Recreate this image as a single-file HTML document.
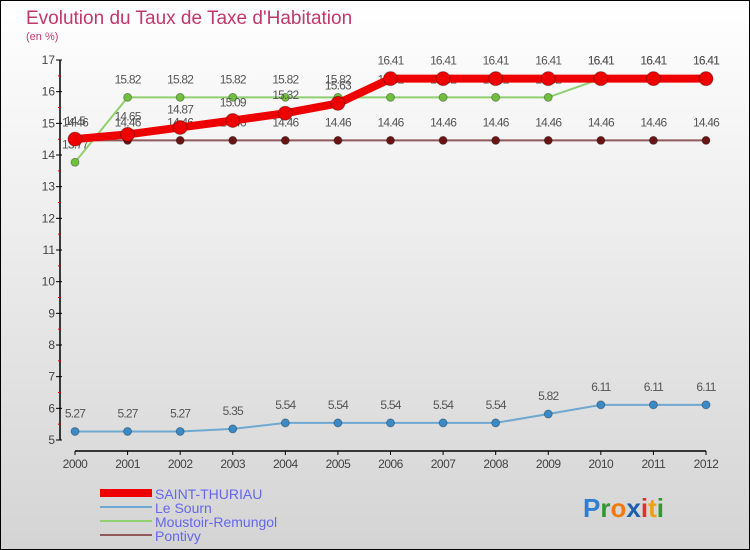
<!DOCTYPE html>
<html><head><meta charset="utf-8"><style>
body{margin:0}
svg{display:block;font-family:"Liberation Sans",sans-serif}
</style></head><body>
<svg id="c" width="750" height="550">
<defs><linearGradient id="bg" x1="0" y1="0" x2="0" y2="1"><stop offset="0" stop-color="#ffffff"/><stop offset="1" stop-color="#d4d4d4"/></linearGradient></defs>
<rect x="0.5" y="0.5" width="749" height="549" fill="url(#bg)" stroke="#000"/>
<text x="26" y="24" font-size="19" fill="#c0386a">Evolution du Taux de Taxe d'Habitation</text>
<text x="26" y="40" font-size="11" fill="#c0386a">(en %)</text>
<g id="axes"></g><g id="series"></g>
<g>
<rect x="100" y="489" width="52" height="8" fill="#ee0000"/>
<text x="155" y="499" font-size="14" fill="#6666ee">SAINT-THURIAU</text>
<rect x="100" y="506" width="52" height="2" fill="#6fa8d0"/>
<text x="155" y="513" font-size="14" fill="#6666ee">Le Sourn</text>
<rect x="100" y="520" width="52" height="2" fill="#90d070"/>
<text x="155" y="527" font-size="14" fill="#6666ee">Moustoir-Remungol</text>
<rect x="100" y="534" width="52" height="2" fill="#905a5a"/>
<text x="155" y="541" font-size="14" fill="#6666ee">Pontivy</text>
</g>
<text x="583" y="517" font-size="26" font-weight="bold"><tspan fill="#2f7fd0">P</tspan><tspan fill="#2f9a2f">r</tspan><tspan fill="#f07a10">o</tspan><tspan fill="#1c5fb0">x</tspan><tspan fill="#e03030">i</tspan><tspan fill="#f0a010">t</tspan><tspan fill="#2f9a2f">i</tspan></text>
</svg>
<script>
const years=[2000,2001,2002,2003,2004,2005,2006,2007,2008,2009,2010,2011,2012];
const yTicks=[5,6,7,8,9,10,11,12,13,14,15,16,17];
const saintThuriau=[14.5,14.65,14.87,15.09,15.32,15.63,16.41,16.41,16.41,16.41,16.41,16.41,16.41];
const leSourn=[5.27,5.27,5.27,5.35,5.54,5.54,5.54,5.54,5.54,5.82,6.11,6.11,6.11];
const moustoir=[13.77,15.82,15.82,15.82,15.82,15.82,15.82,15.82,15.82,15.82,16.41,16.41,16.41];
const pontivy=[14.46,14.46,14.46,14.46,14.46,14.46,14.46,14.46,14.46,14.46,14.46,14.46,14.46];
const NS="http://www.w3.org/2000/svg";
const X=i=>75+i*(706-75)/(years.length-1);
const Y=v=>440-(v-5)*(380/12);
function mk(t,a,p){const e=document.createElementNS(NS,t);for(const k in a)e.setAttribute(k,a[k]);p.appendChild(e);return e;}
const ax=document.getElementById('axes'),sg=document.getElementById('series');
let e;
e=mk('line',{x1:60,y1:Y(17),x2:60,y2:Y(5),stroke:'#000','stroke-width':1.5},ax);


e=mk('line',{x1:X(0),y1:451,x2:X(12),y2:451,stroke:'#000','stroke-width':1.5},ax);


yTicks.forEach((v,i)=>{
 mk('line',{x1:56,y1:Y(v),x2:62,y2:Y(v),stroke:'#000'},ax);
 if(i<yTicks.length-1)mk('line',{x1:58,y1:Y(v+0.5),x2:61,y2:Y(v+0.5),stroke:'#e00000'},ax);
 e=mk('text',{x:55,y:Y(v)+4,'font-size':12,fill:'#444','text-anchor':'end'},ax);e.textContent=v;
 
 
});
years.forEach((y,i)=>{
 mk('line',{x1:X(i),y1:451,x2:X(i),y2:455,stroke:'#000'},ax);
 e=mk('text',{x:X(i),y:468,'font-size':12,fill:'#444','text-anchor':'middle','letter-spacing':'-0.5'},ax);e.textContent=y;
 
 
});
function series(vals,name,lc,lw,dc,r,labOff){
 const g=mk('g',{},sg);
 
 
 mk('polyline',{points:vals.map((v,i)=>X(i)+','+Y(v)).join(' '),fill:'none',stroke:lc,'stroke-width':lw,'stroke-linejoin':'round'},g);
 vals.forEach((v,i)=>{
  const c=mk('circle',{cx:X(i),cy:Y(v),r:r,fill:dc,stroke:'rgba(0,0,0,0.3)'},g);
  
  
  const t=mk('text',{x:X(i),y:Y(v)+labOff,'font-size':12,fill:'#555','text-anchor':'middle','letter-spacing':'-0.8'},g);
  t.textContent=v;
 });
}
series(pontivy,'pontivy','#905a5a',2,'#6a1515',4,-14);
series(leSourn,'le-sourn','#6fa8d0',2,'#3a8ac8',4,-14);
series(moustoir,'moustoir-remungol','#90d070',2,'#70c040',4,-14);
series(saintThuriau,'saint-thuriau','#ee0000',8,'#ee0000',7,-14);
</script>
</body></html>
